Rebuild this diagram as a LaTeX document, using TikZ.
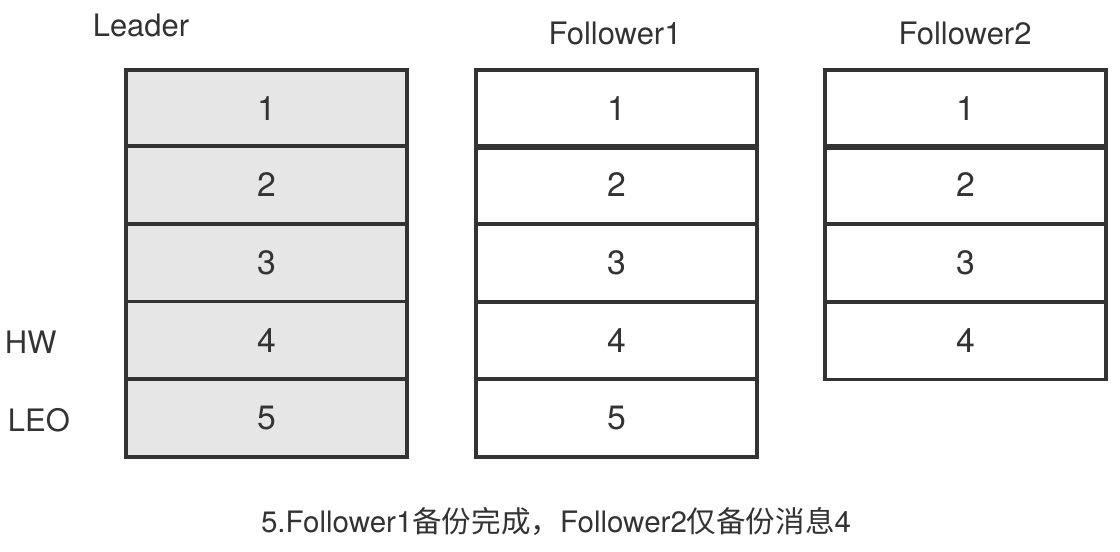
\documentclass[tikz,border=0pt]{standalone}
\usepackage{fontspec}
\setmainfont{TeX Gyre Heros}
\newfontfamily\cjk{Noto Sans CJK SC}
\usetikzlibrary{positioning}
\definecolor{cellgray}{HTML}{E6E6E6}
\definecolor{edgegray}{HTML}{333333}
\definecolor{textgray}{HTML}{333333}

\tikzset{
  cell/.style={draw=edgegray, line width=2.2pt, minimum width=7.025cm,
    minimum height=1.95cm, inner sep=0pt, font=\fontsize{24}{26}\selectfont,
    text=textgray},
  leadcell/.style={cell, fill=cellgray},
  title/.style={font=\fontsize{22}{26}\selectfont, text=textgray}
}

\begin{document}
\begin{tikzpicture}[x=0.025cm, y=-0.025cm]
    \useasboundingbox (0,0) rectangle (1120,552);
    % leader log
    \foreach \i/\y in {1/109, 2/185, 3/263, 4/340.5, 5/418}
        \node[leadcell] (l\i) at (266.5,\y) {\i};
    % follower logs
    \foreach \i/\y in {1/109, 2/185, 3/263, 4/340.5, 5/418}
        \node[cell] (fa\i) at (616.5,\y) {\i};
    \foreach \i/\y in {1/109, 2/185, 3/263, 4/340.5}
        \node[cell] (fb\i) at (965.5,\y) {\i};
    \node[title] (leader) at (141,25) {Leader};
    \node[title] (fol1) at (615,33) {Follower1};
    \node[title] (fol2) at (965,33) {Follower2};
    \node[title, anchor=west] (hw) at (0,342) {HW};
    \node[title, anchor=west] (leo) at (3,420) {LEO};
    \node[title, font=\fontsize{21}{26}\selectfont] (caption) at (556,522)
        {5.Follower1{\cjk 备份完成，}Follower2{\cjk 仅备份消息}4};
\end{tikzpicture}
\end{document}
